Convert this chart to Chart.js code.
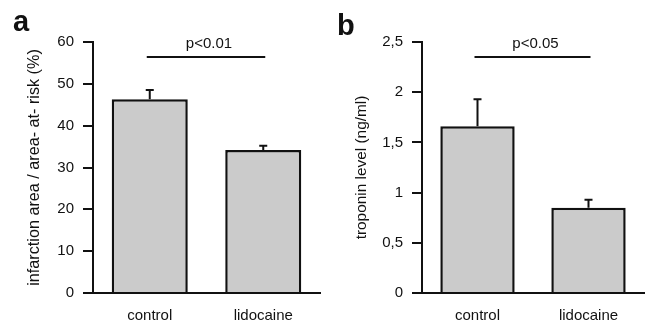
<!DOCTYPE html>
<html>
<head>
<meta charset="utf-8">
<script src="https://cdn.jsdelivr.net/npm/chart.js@4"></script>
<style>
  html, body { margin: 0; padding: 0; background: #fff; }
  #wrap { position: relative; width: 648px; height: 322px; }
  .panel { position: absolute; top: 0; width: 324px; height: 322px; }
</style>
</head>
<body>
<div id="wrap">
  <div class="panel" style="left:0"><canvas id="chartA" width="324" height="322"></canvas></div>
  <div class="panel" style="left:324px"><canvas id="chartB" width="324" height="322"></canvas></div>
</div>
<script>
const categories = ["control", "lidocaine"];

// panel a: infarction area / area at risk (%)
const infarctMeans = [46.3, 34.2];
const infarctErrors = [2.2, 1.0];
const infarctSigLevel = 56.4;

// panel b: troponin (ng/ml)
const troponinMeans = [1.66, 0.85];
const troponinErrors = [0.27, 0.08];
const troponinSigLevel = 2.35;

const FONT = "'Liberation Sans', Arial, sans-serif";
const INK = "#111";

// error bars (upper half only) + significance bracket + panel letter
const extras = {
    id: "extras",
    afterDatasetsDraw(chart, args, opts) {
        const c = chart.ctx;
        const x = chart.scales.x;
        const y = chart.scales.y;
        const means = chart.data.datasets[0].data;
        c.save();
        c.strokeStyle = INK;
        c.lineWidth = 2;
        means.forEach((m, i) => {
            const px = x.getPixelForValue(i);
            const top = y.getPixelForValue(m + opts.errors[i]);
            c.beginPath();
            c.moveTo(px, y.getPixelForValue(m));
            c.lineTo(px, top);
            c.moveTo(px - 4, top);
            c.lineTo(px + 4, top);
            c.stroke();
        });
        // significance line
        const sy = y.getPixelForValue(opts.sigLevel);
        const x0 = x.getPixelForValue(0) - 3;
        const x1 = x.getPixelForValue(1) + 2;
        c.beginPath();
        c.moveTo(x0, sy);
        c.lineTo(x1, sy);
        c.stroke();
        c.fillStyle = INK;
        c.font = "15px " + FONT;
        c.textAlign = "center";
        c.textBaseline = "alphabetic";
        c.fillText(opts.sigText, (x0 + x1) / 2 + 3, sy - 9);
        // panel letter
        c.font = "bold 29px " + FONT;
        c.textAlign = "left";
        c.fillText(opts.letter, opts.letterX, opts.letterY);
        c.restore();
    }
};

function makePanel(id, cfg) {
    return new Chart(document.getElementById(id), {
        type: "bar",
        data: {
            labels: categories,
            datasets: [{
                data: cfg.means,
                backgroundColor: "#cbcbcb",
                borderColor: INK,
                borderWidth: 2.5,
                barPercentage: 0.67,
                categoryPercentage: 1
            }]
        },
        options: {
            responsive: false,
            animation: false,
            layout: { padding: { top: 42, right: 4, left: 0, bottom: 0 } },
            plugins: {
                legend: { display: false },
                tooltip: { enabled: false },
                extras: cfg.extras
            },
            scales: {
                x: {
                    grid: { display: false },
                    border: { color: INK, width: 2 },
                    ticks: { color: INK, font: { family: FONT, size: 15 }, padding: 6 },
                    afterFit: s => { s.height = 29; }
                },
                y: {
                    min: 0,
                    max: cfg.max,
                    ticks: {
                        stepSize: cfg.step,
                        color: INK,
                        padding: 9,
                        font: { family: FONT, size: 15 },
                        callback: v => String(v).replace(".", ",")
                    },
                    grid: { drawOnChartArea: false, drawTicks: true, tickLength: 10, color: INK, lineWidth: 2 },
                    border: { color: INK, width: 2 },
                    title: {
                        display: true,
                        text: cfg.title,
                        color: INK,
                        font: { family: FONT, size: cfg.titleSize },
                        padding: { top: cfg.titleX - cfg.titleSize * 0.6, bottom: 0 }
                    },
                    afterFit: s => { s.width = cfg.axisX; }
                }
            }
        },
        plugins: [extras]
    });
}

makePanel("chartA", {
    means: infarctMeans,
    max: 60,
    step: 10,
    title: "infarction area / area- at- risk (%)",
    titleX: 35,
    titleSize: 16.2,
    axisX: 93,
    extras: { errors: infarctErrors, sigLevel: infarctSigLevel, sigText: "p<0.01", letter: "a", letterX: 13, letterY: 31 }
});

makePanel("chartB", {
    means: troponinMeans,
    max: 2.5,
    step: 0.5,
    title: "troponin level (ng/ml)",
    titleX: 38,
    titleSize: 15.4,
    axisX: 98,
    extras: { errors: troponinErrors, sigLevel: troponinSigLevel, sigText: "p<0.05", letter: "b", letterX: 13, letterY: 35 }
});
</script>
</body>
</html>
